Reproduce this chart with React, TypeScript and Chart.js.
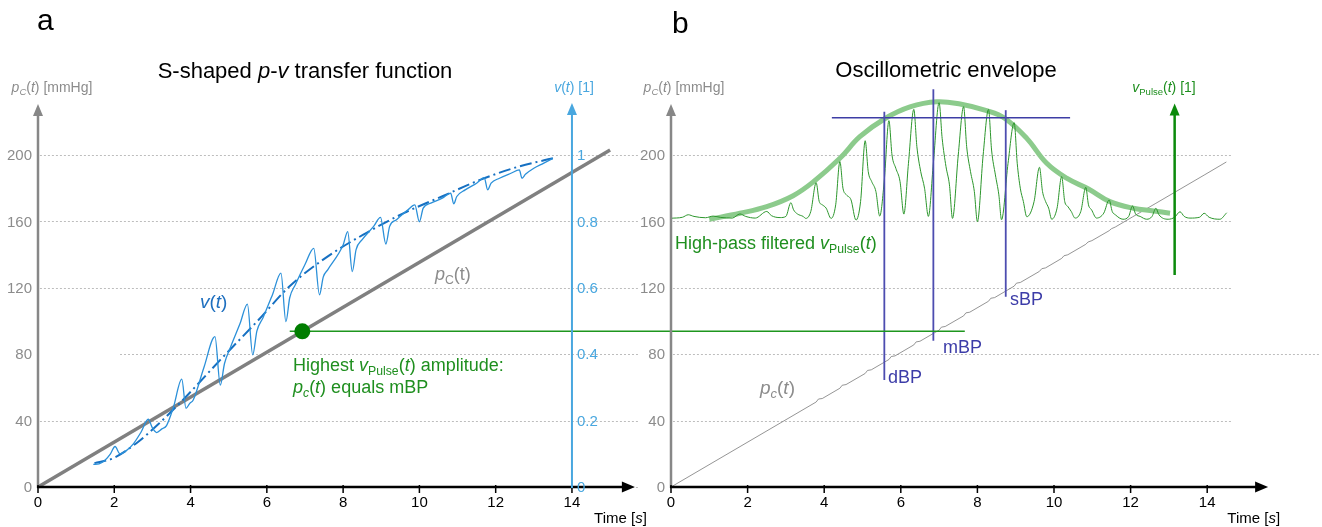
import React, { useEffect, useRef } from "react";
import { Chart, registerables } from "chart.js";
Chart.register(...registerables);

// ---------------- DATA ----------------
const timeTicks = [0, 2, 4, 6, 8, 10, 12, 14];
const pressureTicks = [0, 40, 80, 120, 160, 200];
const vTicks = [0, 0.2, 0.4, 0.6, 0.8, 1];
const vTickLabels = ["0", "0.2", "0.4", "0.6", "0.8", "1"];

// Panel a: cuff pressure ramp [s, mmHg]
const cuffA: [number, number][] = [[0, 0], [15, 203]];
// Panel a: raw v(t) [s, 1]
const vRaw: [number, number][] = [
  [1.45, 0.068], [1.6, 0.07], [1.75, 0.08], [1.9, 0.1], [2.02, 0.122], [2.15, 0.1],
  [2.3, 0.108], [2.5, 0.13], [2.7, 0.165], [2.89, 0.204], [3.0, 0.178], [3.11, 0.164],
  [3.25, 0.175], [3.37, 0.185], [3.55, 0.24], [3.77, 0.325], [3.88, 0.237], [3.98, 0.252],
  [4.07, 0.262], [4.35, 0.36], [4.64, 0.453], [4.78, 0.307], [4.89, 0.372], [5.05, 0.422],
  [5.3, 0.493], [5.49, 0.551], [5.63, 0.398], [5.74, 0.47], [5.9, 0.51], [6.15, 0.58],
  [6.37, 0.644], [6.5, 0.498], [6.6, 0.57], [6.75, 0.61], [7.0, 0.67], [7.23, 0.719],
  [7.38, 0.579], [7.48, 0.633], [7.6, 0.655], [8.0, 0.729], [8.12, 0.769], [8.24, 0.649],
  [8.34, 0.715], [8.5, 0.745], [8.8, 0.785], [8.98, 0.812], [9.12, 0.732], [9.22, 0.785],
  [9.4, 0.805], [9.7, 0.835], [9.88, 0.85], [10.0, 0.799], [10.1, 0.84], [10.3, 0.855],
  [10.6, 0.87], [10.82, 0.885], [10.9, 0.853], [10.98, 0.875], [11.2, 0.895], [11.5, 0.915],
  [11.7, 0.932], [11.79, 0.895], [11.88, 0.915], [12.1, 0.93], [12.4, 0.945], [12.62, 0.955],
  [12.69, 0.93], [12.78, 0.942], [13.0, 0.96], [13.25, 0.975], [13.5, 0.99],
];
// Panel a: mean S-shaped transfer v(t) [s, 1]
const vMean: [number, number][] = [
  [1.48, 0.072], [1.98, 0.087], [2.58, 0.132], [3.18, 0.192], [3.88, 0.272], [4.78, 0.383],
  [5.78, 0.503], [6.59, 0.604], [7.59, 0.694], [8.59, 0.764], [9.59, 0.825], [10.59, 0.875],
  [11.59, 0.925], [12.6, 0.965], [13.5, 0.99],
];
const mbpDot: [number, number][] = [[6.93, 93.8]];
const mbpLink: [number, number][] = [[6.6, 93.8], [24.3, 93.8]];

// Panel b: cuff pressure with small pulse steps [s, mmHg]
const cuffB: [number, number][] = [
  [0, 0], [3.79, 51.2], [3.85, 53.0], [3.95, 53.3], [4.41, 59.5], [4.47, 61.3], [4.57, 61.7],
  [5.07, 68.4], [5.13, 70.2], [5.23, 70.6], [5.69, 76.8], [5.75, 78.6], [5.85, 79.0],
  [6.34, 85.6], [6.4, 87.4], [6.5, 87.8], [7.0, 94.5], [7.06, 96.3], [7.16, 96.7],
  [7.64, 103.1], [7.7, 104.9], [7.8, 105.3], [8.29, 111.9], [8.35, 113.7], [8.45, 114.1],
  [8.96, 121.0], [9.02, 122.8], [9.12, 123.2], [9.62, 129.9], [9.68, 131.5], [9.78, 132.0],
  [10.2, 137.7], [10.26, 139.3], [10.36, 139.9], [10.83, 146.2], [10.89, 147.6], [10.99, 148.4],
  [11.44, 154.4], [11.5, 155.6], [11.6, 156.6], [12.05, 162.7], [12.66, 170.9], [13.29, 179.4],
  [13.92, 187.9], [14.5, 195.8],
];
// Panel b: high-pass filtered vPulse(t), drawn on the mmHg grid around 160 [s, level]
const pulse: [number, number][] = [
  [0.0, 161.9], [0.3, 162.5], [0.45, 164.0], [0.6, 163.0], [0.9, 162.2], [1.1, 163.2], [1.3, 162.4],
  [1.6, 162.0], [1.8, 164.5], [1.95, 163.0], [2.2, 162.0], [2.5, 166.0], [2.62, 163.5], [2.85, 162.3],
  [3.0, 163], [3.13, 171.3], [3.2, 167], [3.3, 164.5], [3.45, 163], [3.52, 161.8], [3.65, 166],
  [3.79, 183.3], [3.87, 172], [3.95, 170], [4.05, 168], [4.18, 161.8], [4.3, 170], [4.41, 196],
  [4.49, 180], [4.58, 176], [4.7, 173], [4.83, 160.8], [4.95, 172], [5.07, 208.6], [5.15, 190],
  [5.24, 184], [5.35, 178], [5.45, 163.2], [5.57, 185], [5.69, 220.7], [5.77, 200], [5.87, 192],
  [5.98, 184], [6.08, 164.4], [6.2, 195], [6.34, 227.5], [6.42, 205], [6.52, 190], [6.62, 180],
  [6.72, 163], [6.85, 195], [7.0, 231.5], [7.08, 210], [7.18, 193], [7.27, 182], [7.35, 161.8],
  [7.5, 200], [7.64, 229.1], [7.72, 205], [7.82, 190], [7.92, 178], [8.0, 159.8], [8.15, 200],
  [8.29, 227.5], [8.37, 203], [8.47, 188], [8.56, 176], [8.63, 161], [8.8, 195], [8.96, 219.5],
  [9.04, 195], [9.12, 180], [9.2, 172], [9.29, 162.8], [9.48, 172], [9.62, 192.6], [9.7, 178],
  [9.78, 172], [9.86, 168], [9.94, 161.3], [10.08, 168], [10.2, 187], [10.28, 172], [10.36, 169],
  [10.45, 166], [10.55, 162], [10.7, 166], [10.83, 180.5], [10.9, 170], [10.98, 167], [11.11, 162],
  [11.3, 165], [11.44, 172.9], [11.52, 166], [11.6, 164], [11.8, 161.3], [11.95, 163], [12.05, 169.3],
  [12.13, 164.5], [12.25, 163], [12.42, 161.3], [12.56, 163], [12.66, 167.9], [12.74, 164],
  [12.98, 161.3], [13.15, 162.5], [13.29, 165.8], [13.4, 163], [13.55, 162], [13.8, 162.5],
  [13.92, 164.9], [14.05, 162.5], [14.33, 161.3], [14.51, 165.2],
];
// Panel b: oscillometric envelope
const envelope: [number, number][] = [
  [1.0, 161.3], [1.8, 164.9], [2.5, 168.9], [3.19, 175.5], [3.72, 183.9], [4.41, 198], [4.93, 211],
  [5.59, 222], [6.24, 229], [6.94, 232.1], [7.55, 230.7], [8.24, 226.7], [8.72, 222], [9.29, 210],
  [9.81, 195], [10.33, 186], [10.9, 179.5], [11.46, 171.9], [12.07, 167.9], [12.6, 166.3], [13.03, 164.9],
];
const bpLevel: [number, number][] = [[4.2, 222.5], [10.42, 222.5]];
const markerNames = ["dBP", "mBP", "sBP"];
const markerTime = [5.57, 6.85, 8.74];
const markerTop = [226, 239.6, 227];
const markerBottom = [64.5, 88.1, 114.6];
const pulseAxis: [number, number][] = [[13.15, 127.7], [13.15, 231]];

// ---------------- LAYOUT ----------------
const W = 1322, H = 527;
const A_ORIGIN = 38, A_PPU = 38.14;
const B_ORIGIN = 671, B_PPU = 38.3;
const Y_ORIGIN = 487, Y_PPU = 1.66;
const FONT = '"Liberation Sans", Arial, Helvetica, sans-serif';

type Run = [string, string?];

function fontFor(flags: string, size: number) {
  const it = flags.includes("i") ? "italic " : "";
  const s = flags.includes("s") ? size * 0.68 : size;
  return `${it}${s}px ${FONT}`;
}
function drawRich(ctx: CanvasRenderingContext2D, runs: Run[], x: number, y: number, size: number, color: string, align = "left") {
  let w = 0;
  for (const [t, f = ""] of runs) { ctx.font = fontFor(f, size); w += ctx.measureText(t).width; }
  let cx = align === "center" ? x - w / 2 : align === "right" ? x - w : x;
  ctx.fillStyle = color;
  ctx.textAlign = "left";
  ctx.textBaseline = "alphabetic";
  for (const [t, f = ""] of runs) {
    ctx.font = fontFor(f, size);
    ctx.fillText(t, cx, f.includes("s") ? y + size * 0.22 : y);
    cx += ctx.measureText(t).width;
  }
}
function arrowUp(ctx: CanvasRenderingContext2D, x: number, y: number, color: string) {
  ctx.fillStyle = color; ctx.beginPath();
  ctx.moveTo(x, y); ctx.lineTo(x - 5, y + 12); ctx.lineTo(x + 5, y + 12); ctx.closePath(); ctx.fill();
}
function arrowRight(ctx: CanvasRenderingContext2D, x: number, y: number, color: string) {
  ctx.fillStyle = color; ctx.beginPath();
  ctx.moveTo(x, y); ctx.lineTo(x - 13, y - 5.5); ctx.lineTo(x - 13, y + 5.5); ctx.closePath(); ctx.fill();
}

const figurePlugin = {
  id: "figure",
  beforeDatasetsDraw(chart: any) {
    const ctx: CanvasRenderingContext2D = chart.ctx;
    const { xA, xB, y } = chart.scales;
    ctx.save();
    ctx.strokeStyle = "#bdbdbd"; ctx.lineWidth = 1; ctx.setLineDash([2, 2]);
    for (const v of pressureTicks) {
      const py = Math.round(y.getPixelForValue(v)) + 0.5;
      const a0 = v === 80 ? 2.15 : 0.05;
      ctx.beginPath(); ctx.moveTo(xA.getPixelForValue(a0), py); ctx.lineTo(xA.getPixelForValue(15.73), py); ctx.stroke();
      if (v > 0) {
        ctx.beginPath(); ctx.moveTo(xB.getPixelForValue(0.05), py);
        ctx.lineTo(xB.getPixelForValue(v === 80 ? 16.95 : 14.67), py); ctx.stroke();
      }
    }
    ctx.restore();
  },
  afterDatasetsDraw(chart: any) {
    const ctx: CanvasRenderingContext2D = chart.ctx;
    const { xA, xB, y, yV } = chart.scales;
    ctx.save();
    ctx.setLineDash([]);
    const y0 = y.getPixelForValue(0);
    const yTop = y.getPixelForValue(230.7);

    const panelAxes = (xs: any, tip: number, labelRight: number) => {
      const x0 = xs.getPixelForValue(0);
      ctx.strokeStyle = "#878787"; ctx.lineWidth = 2.5;
      ctx.beginPath(); ctx.moveTo(x0, y0 + 1); ctx.lineTo(x0, yTop + 10); ctx.stroke();
      arrowUp(ctx, x0, yTop, "#878787");
      ctx.font = `15px ${FONT}`; ctx.fillStyle = "#8c8c8c"; ctx.textAlign = "right"; ctx.textBaseline = "middle";
      for (const v of pressureTicks) ctx.fillText(String(v), labelRight, y.getPixelForValue(v) + 1);
      const xt = xs.getPixelForValue(tip);
      ctx.strokeStyle = "#000"; ctx.lineWidth = 2.5;
      ctx.beginPath(); ctx.moveTo(x0 - 1, y0); ctx.lineTo(xt - 10, y0); ctx.stroke();
      arrowRight(ctx, xt, y0, "#000");
      ctx.lineWidth = 1.5;
      ctx.font = `15px ${FONT}`; ctx.fillStyle = "#000"; ctx.textAlign = "center"; ctx.textBaseline = "top";
      for (const t of timeTicks) {
        const px = xs.getPixelForValue(t);
        ctx.beginPath(); ctx.moveTo(px, y0 - 2); ctx.lineTo(px, y0 + 6); ctx.stroke();
        ctx.fillText(String(t), px, 495);
      }
      drawRich(ctx, [["Time ["], ["s", "i"], ["]"]], xt + 12, 523, 15, "#000", "right");
    };
    panelAxes(xA, 15.65, 32);
    panelAxes(xB, 15.59, 665);

    const vx = xA.getPixelForValue(14);
    ctx.strokeStyle = "#49a7df"; ctx.lineWidth = 2;
    ctx.beginPath(); ctx.moveTo(vx, yV.getPixelForValue(0) + 1); ctx.lineTo(vx, yV.getPixelForValue(1.157) + 10); ctx.stroke();
    arrowUp(ctx, vx, yV.getPixelForValue(1.157), "#49a7df");
    ctx.font = `15px ${FONT}`; ctx.fillStyle = "#49a7df"; ctx.textAlign = "left"; ctx.textBaseline = "middle";
    vTicks.forEach((v, i) => ctx.fillText(vTickLabels[i], vx + 5, yV.getPixelForValue(v) + 1));

    const gx = xB.getPixelForValue(pulseAxis[0][0]);
    ctx.strokeStyle = "#0b8a0b"; ctx.lineWidth = 2.5;
    ctx.beginPath(); ctx.moveTo(gx, y.getPixelForValue(pulseAxis[0][1])); ctx.lineTo(gx, y.getPixelForValue(pulseAxis[1][1]) + 10); ctx.stroke();
    arrowUp(ctx, gx, y.getPixelForValue(pulseAxis[1][1]), "#0b8a0b");

    const green = "#1f8f1f";
    ctx.fillStyle = "#000"; ctx.textAlign = "left"; ctx.textBaseline = "alphabetic";
    ctx.font = `30px ${FONT}`; ctx.fillText("a", 37, 30); ctx.fillText("b", 672, 33);
    drawRich(ctx, [["S-shaped "], ["p", "i"], ["-"], ["v", "i"], [" transfer function"]], 305, 78, 22, "#000", "center");
    drawRich(ctx, [["Oscillometric envelope"]], 946, 77, 22, "#000", "center");
    drawRich(ctx, [["p", "i"], ["C", "is"], ["("], ["t", "i"], [") [mmHg]"]], 52, 92, 14, "#8c8c8c", "center");
    drawRich(ctx, [["p", "i"], ["C", "is"], ["("], ["t", "i"], [") [mmHg]"]], 684, 92, 14, "#8c8c8c", "center");
    drawRich(ctx, [["v", "i"], ["("], ["t", "i"], [") [1]"]], 574, 92, 14, "#49a7df", "center");
    drawRich(ctx, [["v", "i"], ["Pulse", "s"], ["("], ["t", "i"], [") [1]"]], 1164, 92, 14, green, "center");
    drawRich(ctx, [["v", "i"], ["("], ["t", "i"], [")"]], 200, 308, 19, "#1e6fbf");
    drawRich(ctx, [["p", "i"], ["C", "s"], ["(t)"]], 435, 280, 18, "#8c8c8c");
    drawRich(ctx, [["Highest "], ["v", "i"], ["Pulse", "s"], ["("], ["t", "i"], [") amplitude:"]], 293, 371, 18, green);
    drawRich(ctx, [["p", "i"], ["c", "is"], ["("], ["t", "i"], [") equals mBP"]], 293, 393, 18, green);
    drawRich(ctx, [["High-pass filtered "], ["v", "i"], ["Pulse", "s"], ["("], ["t", "i"], [")"]], 675, 249, 18, green);
    drawRich(ctx, [["p", "i"], ["c", "is"], ["("], ["t", "i"], [")"]], 760, 394, 19, "#8c8c8c");
    const labelPos = [[888, 383], [943, 353], [1010, 305]];
    markerNames.forEach((n, i) => drawRich(ctx, [[n]], labelPos[i][0], labelPos[i][1], 18, "#3c3ca8"));
    ctx.restore();
  },
};

const toXY = (arr: [number, number][]) => arr.map(([x, v]) => ({ x, y: v }));

export default function App() {
  const ref = useRef<HTMLCanvasElement>(null);
  useEffect(() => {
    if (!ref.current) return;
    const line = (data: [number, number][], xAxisID: string, yAxisID: string, color: string, width: number, extra: any = {}) => ({
      data: toXY(data), xAxisID, yAxisID, borderColor: color, backgroundColor: color, borderWidth: width,
      pointRadius: 0, fill: false, tension: 0, ...extra,
    });
    const markers = markerTime.map((t, i) =>
      line([[t, markerBottom[i]], [t, markerTop[i]]], "xB", "y", "#4d4db0", 1.8, { order: 1 }));
    const chart = new Chart(ref.current, {
      type: "line",
      data: {
        datasets: [
          line(mbpDot, "xA", "y", "#007d00", 0, { pointRadius: 8, pointBorderWidth: 0, showLine: false, order: 0 }),
          line(mbpLink, "xA", "y", "#1e961e", 1.6, { order: 1 }),
          line(vRaw, "xA", "yV", "#2b90d9", 1.3, { cubicInterpolationMode: "monotone", order: 2 }),
          line(vMean, "xA", "yV", "#1670c2", 2, { borderDash: [12, 4, 2, 4], cubicInterpolationMode: "monotone", order: 3 }),
          line(cuffA, "xA", "y", "#808080", 3.5, { order: 4 }),
          ...markers,
          line(bpLevel, "xB", "y", "#3d3da5", 1.5, { order: 1 }),
          line(pulse, "xB", "y", "#2c962c", 1, { cubicInterpolationMode: "monotone", order: 3 }),
          line(envelope, "xB", "y", "#8ccb8c", 5, { tension: 0.4, order: 4 }),
          line(cuffB, "xB", "y", "#7a7a7a", 0.8, { order: 5 }),
        ] as any,
      },
      options: {
        responsive: false,
        animation: false,
        events: [],
        layout: { padding: 0, autoPadding: false },
        plugins: { legend: { display: false }, tooltip: { enabled: false }, title: { display: false } },
        scales: {
          xA: { type: "linear", axis: "x", display: false, min: -A_ORIGIN / A_PPU, max: (W - A_ORIGIN) / A_PPU },
          xB: { type: "linear", axis: "x", display: false, min: -B_ORIGIN / B_PPU, max: (W - B_ORIGIN) / B_PPU },
          y: { type: "linear", axis: "y", display: false, min: -(H - Y_ORIGIN) / Y_PPU, max: Y_ORIGIN / Y_PPU },
          yV: { type: "linear", axis: "y", display: false, min: -(H - Y_ORIGIN) / (Y_PPU * 200), max: Y_ORIGIN / (Y_PPU * 200) },
        } as any,
      },
      plugins: [figurePlugin as any],
    });
    return () => chart.destroy();
  }, []);
  return (
    <div style={{ position: "absolute", left: 0, top: 0, width: W, height: H, background: "#fff" }}>
      <canvas ref={ref} width={W} height={H} style={{ width: W, height: H, display: "block" }} />
    </div>
  );
}
